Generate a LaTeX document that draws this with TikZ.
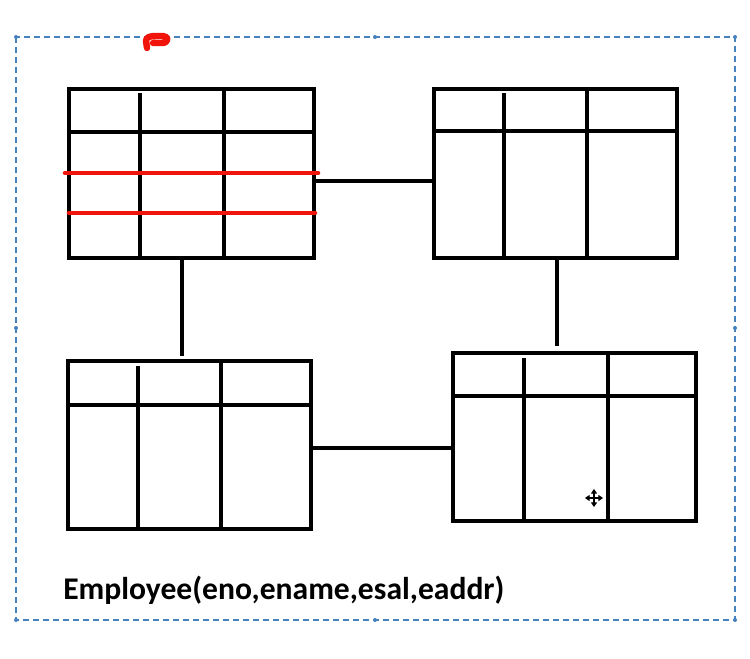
\documentclass[tikz,border=0pt]{standalone}
\usepackage{fontspec}
\setmainfont{Carlito}
\usetikzlibrary{arrows.meta}
\definecolor{selblue}{RGB}{70,130,190}
\definecolor{markred}{RGB}{240,20,10}
\tikzset{
  tbl/.style={draw=black, line width=3.5pt, fill=white, inner sep=0pt, outer sep=0pt},
  grid/.style={draw=black, line width=3.5pt},
  conn/.style={draw=black, line width=3.3pt},
  strike/.style={draw=markred, line width=3.4pt, line cap=round},
  selbox/.style={draw=selblue, line width=0.9pt, dash pattern=on 4.5pt off 3pt},
  handle/.style={fill=selblue, draw=none},
  caption/.style={font=\bfseries\fontsize{23.7}{28}\selectfont, inner sep=0pt, anchor=base west}
}
\begin{document}
\begin{tikzpicture}[x=0.75pt, y=-0.75pt]
\useasboundingbox (0,0) rectangle (750,658);
\fill[white] (0,0) rectangle (750,658);
% selection frame
\draw[selbox] (16,37) rectangle (735,620);
\foreach \p in {(16,37),(375,37),(735,37),(16,328),(735,328),(16,620),(375,620),(735,620)}
  \fill[handle] \p circle (1.5pt);
% red mark
\draw[draw=markred, line width=4.8pt, line cap=round, line join=round]
  (147,48) -- (146,41) .. controls (146,37) and (150,36) .. (156,36) -- (163,36)
  .. controls (169,36) and (169,43) .. (162,43) -- (153,43);
% tables
\node[tbl, minimum width=183.75pt, minimum height=126.75pt] (t1) at (191.5,173.5) {};
\node[tbl, minimum width=182.25pt, minimum height=126.75pt] (t2) at (555.5,173.5) {};
\node[tbl, minimum width=182.25pt, minimum height=126pt] (t3) at (189.5,445) {};
\node[tbl, minimum width=182.25pt, minimum height=126pt] (t4) at (574.5,437) {};
% table 1 grid
\draw[grid] (69,132) -- (314,132);
\draw[grid] (140,93) -- (140,258);
\draw[grid] (224,89) -- (224,258);
% table 2 grid
\draw[grid] (434,131) -- (677,131);
\draw[grid] (504,93) -- (504,258);
\draw[grid] (587,89) -- (587,258);
% table 3 grid
\draw[grid] (68,405) -- (311,405);
\draw[grid] (138,366) -- (138,529);
\draw[grid] (221,361) -- (221,529);
% table 4 grid
\draw[grid] (453,396) -- (696,396);
\draw[grid] (524,358) -- (524,521);
\draw[grid] (608,353) -- (608,521);
% red strike lines
\draw[strike] (65,173) -- (318,173);
\draw[strike] (69,213) -- (315,213);
% connectors
\draw[conn] ([yshift=-5.6pt]t1.east) -- ([yshift=-5.6pt]t2.west);
\draw[conn, shorten >=4pt] ([xshift=-7.1pt]t1.south) -- ([xshift=-7.1pt]t1.south |- t3.north);
\draw[conn, shorten >=5.5pt] ([xshift=1.1pt]t2.south) -- ([xshift=1.1pt]t2.south |- t4.north);
\draw[conn] ([yshift=-2.25pt]t3.east) -- ([yshift=-2.25pt]t3.east -| t4.west);
% caption
\node[caption] (cap) at (63,599) {Employee(eno,ename,esal,eaddr)};
% move cursor
\coordinate (cur) at (594,498);
\draw[line width=1.3pt, {Triangle[length=3.5pt,width=4.5pt]}-{Triangle[length=3.5pt,width=4.5pt]}] ([xshift=-6.8pt]cur) -- ([xshift=6.8pt]cur);
\draw[line width=1.3pt, {Triangle[length=3.5pt,width=4.5pt]}-{Triangle[length=3.5pt,width=4.5pt]}] ([yshift=-6.8pt]cur) -- ([yshift=6.8pt]cur);
\end{tikzpicture}
\end{document}
